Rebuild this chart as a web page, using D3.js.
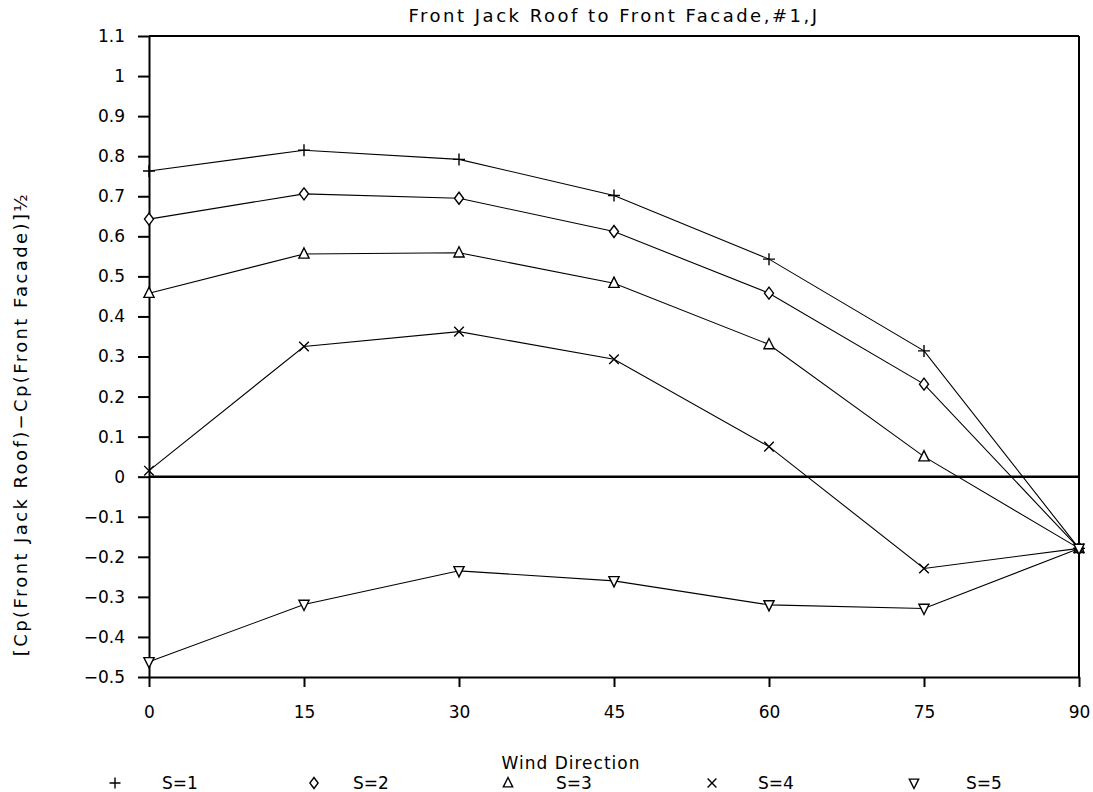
<!DOCTYPE html>
<html>
<head>
<meta charset="utf-8">
<script src="https://cdn.jsdelivr.net/npm/d3@7"></script>
<style>
body { margin: 0; background: #fff; }
text { font-family: "DejaVu Sans", sans-serif; fill: #000; }
</style>
</head>
<body>
<svg id="chart" width="1093" height="792"></svg>
<script>
// wind direction (deg) and the five series
const directions = [0, 15, 30, 45, 60, 75, 90];
const s1 = [0.763, 0.815, 0.792, 0.702, 0.543, 0.314, -0.179];
const s2 = [0.643, 0.706, 0.695, 0.612, 0.458, 0.231, -0.179];
const s3 = [0.458, 0.556, 0.559, 0.483, 0.330, 0.050, -0.179];
const s4 = [0.015, 0.325, 0.362, 0.293, 0.075, -0.229, -0.179];
const s5 = [-0.462, -0.319, -0.235, -0.260, -0.320, -0.329, -0.179];
const seriesNames = ["S=1", "S=2", "S=3", "S=4", "S=5"];
const yTicks = [1.1, 1, 0.9, 0.8, 0.7, 0.6, 0.5, 0.4, 0.3, 0.2, 0.1, 0, -0.1, -0.2, -0.3, -0.4, -0.5];

let svg = d3.select("#chart");

let margin = {top: 36, right: 14, bottom: 115, left: 149};
let width = 1093 - margin.left - margin.right;
let height = 792 - margin.top - margin.bottom;

let g = svg.append("g")
    .attr("transform", `translate(${margin.left}, ${margin.top})`);

let x = d3.scaleLinear().domain([0, 90]).range([0, width]);
let y = d3.scaleLinear().domain([-0.5, 1.1]).range([height, 0]);

// axes
let yAxis = g.append("g")
    .call(d3.axisLeft(y).tickValues(yTicks).tickSize(11).tickSizeOuter(0).tickPadding(13)
        .tickFormat(d => d3.format("")(+d.toFixed(1)).replace("-", "\u2212")));
let xAxis = g.append("g")
    .attr("transform", `translate(0, ${height})`)
    .call(d3.axisBottom(x).tickValues(directions).tickSize(10).tickSizeOuter(0).tickPadding(19));

[yAxis, xAxis].forEach(a => {
    a.selectAll("path, line").attr("stroke", "#000").attr("stroke-width", 2);
    a.selectAll("text").style("font-size", "17px").style("font-family", "DejaVu Sans");
});

// top and right frame
g.append("line").attr("x1", 0).attr("x2", width).attr("y1", 0).attr("y2", 0)
    .attr("stroke", "#000").attr("stroke-width", 2);
g.append("line").attr("x1", width).attr("x2", width).attr("y1", 0).attr("y2", height)
    .attr("stroke", "#000").attr("stroke-width", 2);

// zero line
g.append("line").attr("x1", 0).attr("x2", width).attr("y1", y(0)).attr("y2", y(0))
    .attr("stroke", "#000").attr("stroke-width", 2.5);

// marker shapes
let symbols = [
    function(s) { return `M${-s},0H${s}M0,${-s}V${s}`; },                       // plus
    function(s) { return `M0,${-s}L${s*0.75},0L0,${s}L${-s*0.75},0Z`; },        // diamond
    function(s) { return `M0,${-s}L${s*0.85},${s*0.7}L${-s*0.85},${s*0.7}Z`; }, // triangle up
    function(s) { s = s * 0.8; return `M${-s},${-s}L${s},${s}M${s},${-s}L${-s},${s}`; }, // cross
    function(s) { return `M0,${s}L${s*0.85},${-s*0.7}L${-s*0.85},${-s*0.7}Z`; }  // triangle down
];

let seriesData = [s1, s2, s3, s4, s5].map((vals, i) => ({
    name: seriesNames[i],
    sym: i,
    points: vals.map((v, j) => ({dir: directions[j], val: v}))
}));

let line = d3.line()
    .x(d => x(d.dir))
    .y(d => y(d.val));

let series = g.selectAll(".series")
    .data(seriesData)
    .join("g")
    .attr("class", "series");

series.append("path")
    .attr("d", d => line(d.points))
    .attr("fill", "none")
    .attr("stroke", "#000")
    .attr("stroke-width", 1.1);

series.selectAll(".mark")
    .data(d => d.points.map(p => ({...p, sym: d.sym})))
    .join("path")
    .attr("class", "mark")
    .attr("transform", d => `translate(${x(d.dir)}, ${y(d.val)})`)
    .attr("d", d => symbols[d.sym](6))
    .attr("fill", d => (d.sym === 0 || d.sym === 3) ? "none" : "#fff")
    .attr("stroke", "#000")
    .attr("stroke-width", 1.4);

// title
svg.append("text")
    .attr("x", margin.left + width / 2)
    .attr("y", 22)
    .attr("text-anchor", "middle")
    .style("font-size", "18px")
    .style("letter-spacing", "2.5px")
    .text("Front Jack Roof to Front Facade,#1,J");

// y label
svg.append("text")
    .attr("transform", "translate(27, 424) rotate(-90)")
    .attr("text-anchor", "middle")
    .style("font-size", "18px")
    .style("letter-spacing", "2.4px")
    .text("[Cp(Front Jack Roof)\u2212Cp(Front Facade)]\u00bd");

// x label
svg.append("text")
    .attr("x", 571)
    .attr("y", 769)
    .attr("text-anchor", "middle")
    .style("font-size", "17px")
    .style("letter-spacing", "1px")
    .text("Wind Direction");

// legend
let legendSymX = [115, 314, 508, 712, 914];
let legendTextX = [162, 353, 556, 758, 966];
let legendY = 783;

svg.selectAll(".legsym")
    .data(seriesData)
    .join("path")
    .attr("class", "legsym")
    .attr("transform", (d, i) => `translate(${legendSymX[i]}, ${legendY})`)
    .attr("d", d => symbols[d.sym](5.5))
    .attr("fill", "none")
    .attr("stroke", "#000")
    .attr("stroke-width", 1.4);

svg.selectAll(".legtext")
    .data(seriesData)
    .join("text")
    .attr("class", "legtext")
    .attr("x", (d, i) => legendTextX[i])
    .attr("y", legendY + 6)
    .style("font-size", "17px")
    .text(d => d.name);
</script>
</body>
</html>
